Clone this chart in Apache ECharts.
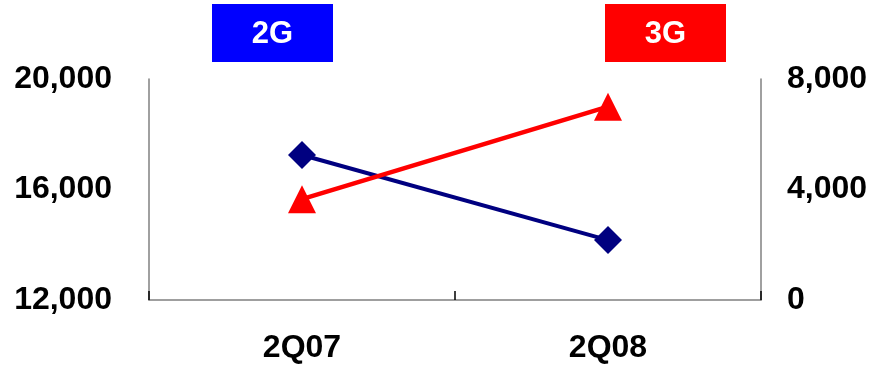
<!DOCTYPE html>
<html>
<head>
<meta charset="utf-8">
<script src="https://cdn.jsdelivr.net/npm/echarts@6/dist/echarts.min.js"></script>
<style>
  html, body { margin: 0; padding: 0; background: #fff; }
  #chart { width: 885px; height: 367px; }
</style>
</head>
<body>
<div id="chart"></div>
<script>
// Quarterly subscriber comparison: 2G on the left axis, 3G on the right axis
const quarters = ['2Q07', '2Q08'];
const subs2G = [17250, 14170];
const subs3G = [3650, 7000];
const leftAxisRange = [12000, 20000];
const rightAxisRange = [0, 8000];
const axisStep = 4000;

const FONT = '"Liberation Sans", Arial, sans-serif';
const fmt = v => v.toLocaleString('en-US');

const chart = echarts.init(document.getElementById('chart'), null, { renderer: 'canvas' });

chart.setOption({
  animation: false,
  backgroundColor: '#ffffff',
  grid: { left: 149, right: 124, top: 79, bottom: 67, containLabel: false },
  xAxis: {
    type: 'category',
    data: quarters,
    boundaryGap: true,
    axisLine: { lineStyle: { color: '#808080', width: 1.5 } },
    axisTick: { show: true, inside: true, length: 9, lineStyle: { color: '#000', width: 1.5 } },
    axisLabel: { color: '#000', fontFamily: FONT, fontWeight: 'bold', fontSize: 32, margin: 32 },
    splitLine: { show: false }
  },
  yAxis: [
    {
      type: 'value',
      min: leftAxisRange[0], max: leftAxisRange[1], interval: axisStep,
      axisLine: { show: true, lineStyle: { color: '#808080', width: 1.5 } },
      axisTick: { show: false },
      splitLine: { show: false },
      axisLabel: { color: '#000', fontFamily: FONT, fontWeight: 'bold', fontSize: 32, margin: 37, formatter: fmt }
    },
    {
      type: 'value',
      position: 'right',
      min: rightAxisRange[0], max: rightAxisRange[1], interval: axisStep,
      axisLine: { show: true, lineStyle: { color: '#808080', width: 1.5 } },
      axisTick: { show: false },
      splitLine: { show: false },
      axisLabel: { color: '#000', fontFamily: FONT, fontWeight: 'bold', fontSize: 32, margin: 26, formatter: fmt }
    }
  ],
  series: [
    {
      name: '2G',
      type: 'line',
      yAxisIndex: 0,
      data: subs2G,
      symbol: 'diamond',
      symbolSize: 28,
      lineStyle: { color: '#000080', width: 4 },
      itemStyle: { color: '#000080' },
      z: 2
    },
    {
      name: '3G',
      type: 'line',
      yAxisIndex: 1,
      data: subs3G,
      symbol: 'triangle',
      symbolSize: 28,
      lineStyle: { color: '#ff0000', width: 4.5 },
      itemStyle: { color: '#ff0000' },
      z: 3
    }
  ],
  graphic: [
    {
      type: 'group', left: 212, top: 4,
      children: [
        { type: 'rect', shape: { x: 0, y: 0, width: 121, height: 58 }, style: { fill: '#0000ff' } },
        { type: 'text', x: 60.5, y: 30, style: { text: '2G', fill: '#fff', font: 'bold 31px ' + FONT, align: 'center', verticalAlign: 'middle' } }
      ]
    },
    {
      type: 'group', left: 605, top: 4,
      children: [
        { type: 'rect', shape: { x: 0, y: 0, width: 121, height: 58 }, style: { fill: '#ff0000' } },
        { type: 'text', x: 60.5, y: 30, style: { text: '3G', fill: '#fff', font: 'bold 31px ' + FONT, align: 'center', verticalAlign: 'middle' } }
      ]
    }
  ]
});
</script>
</body>
</html>
